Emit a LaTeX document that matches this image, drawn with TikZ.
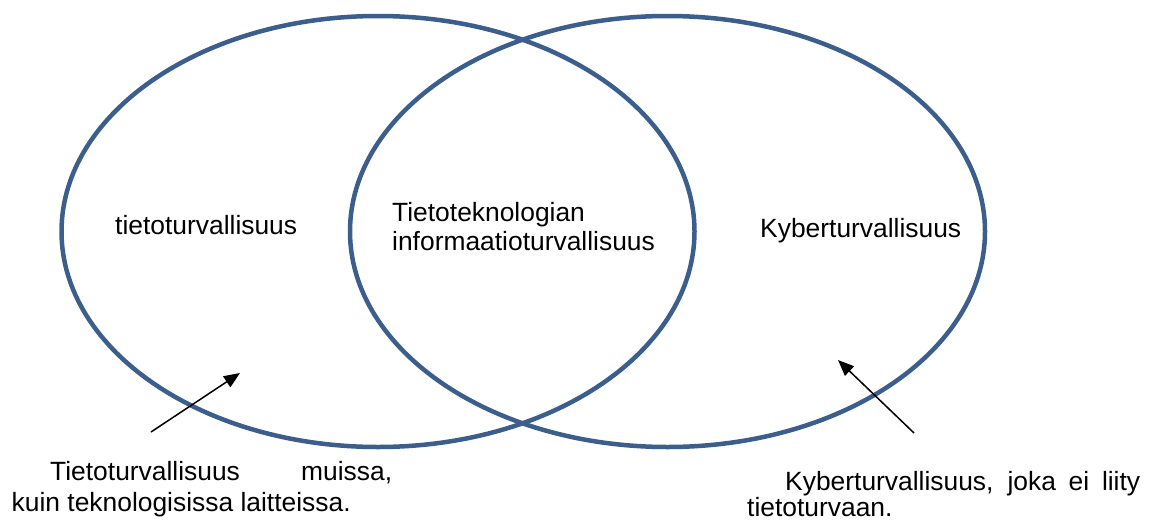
\documentclass[tikz,border=0pt]{standalone}
\usepackage{fontspec}
\setmainfont{Liberation Sans}
\usetikzlibrary{arrows.meta}
\definecolor{vennblue}{RGB}{59,94,140}
\begin{document}
\begin{tikzpicture}[x=1pt,y=-1pt,
  venn/.style={draw=vennblue, line width=4.5pt},
  lbl/.style={inner sep=0pt, anchor=base west, font=\fontsize{26.4}{30}\selectfont},
  pointer/.style={draw=black, line width=1.5pt, -{Triangle[length=16pt,width=13pt]}}]
\useasboundingbox (0,0) rectangle (1153,522);
\draw[venn] (378,231.5) ellipse [x radius=316.5pt, y radius=215.5pt];
\draw[venn] (667.5,231.5) ellipse [x radius=317.5pt, y radius=215.5pt];
\node[lbl] (tt) at (115,234) {tietoturvallisuus};
\node[lbl] (it1) at (392,221) {Tietoteknologian};
\node[lbl] (it2) at (392,250) {informaatioturvallisuus};
\node[lbl] (ky) at (760,237) {Kyberturvallisuus};
\node[lbl] (la1) at (50,480) {\makebox[342pt][s]{Tietoturvallisuus muissa,}};
\node[lbl] (la2) at (11.5,511) {kuin teknologisissa laitteissa.};
\node[lbl] (ra1) at (785,490) {\makebox[355pt][s]{Kyberturvallisuus, joka ei liity}};
\node[lbl] (ra2) at (747,516) {tietoturvaan.};
\coordinate (a1s) at (151,432);
\coordinate (a1e) at (240,373);
\coordinate (a2s) at (914,433);
\coordinate (a2e) at (838,360);
\draw[pointer] (a1s) -- (a1e);
\draw[pointer] (a2s) -- (a2e);
\end{tikzpicture}
\end{document}
